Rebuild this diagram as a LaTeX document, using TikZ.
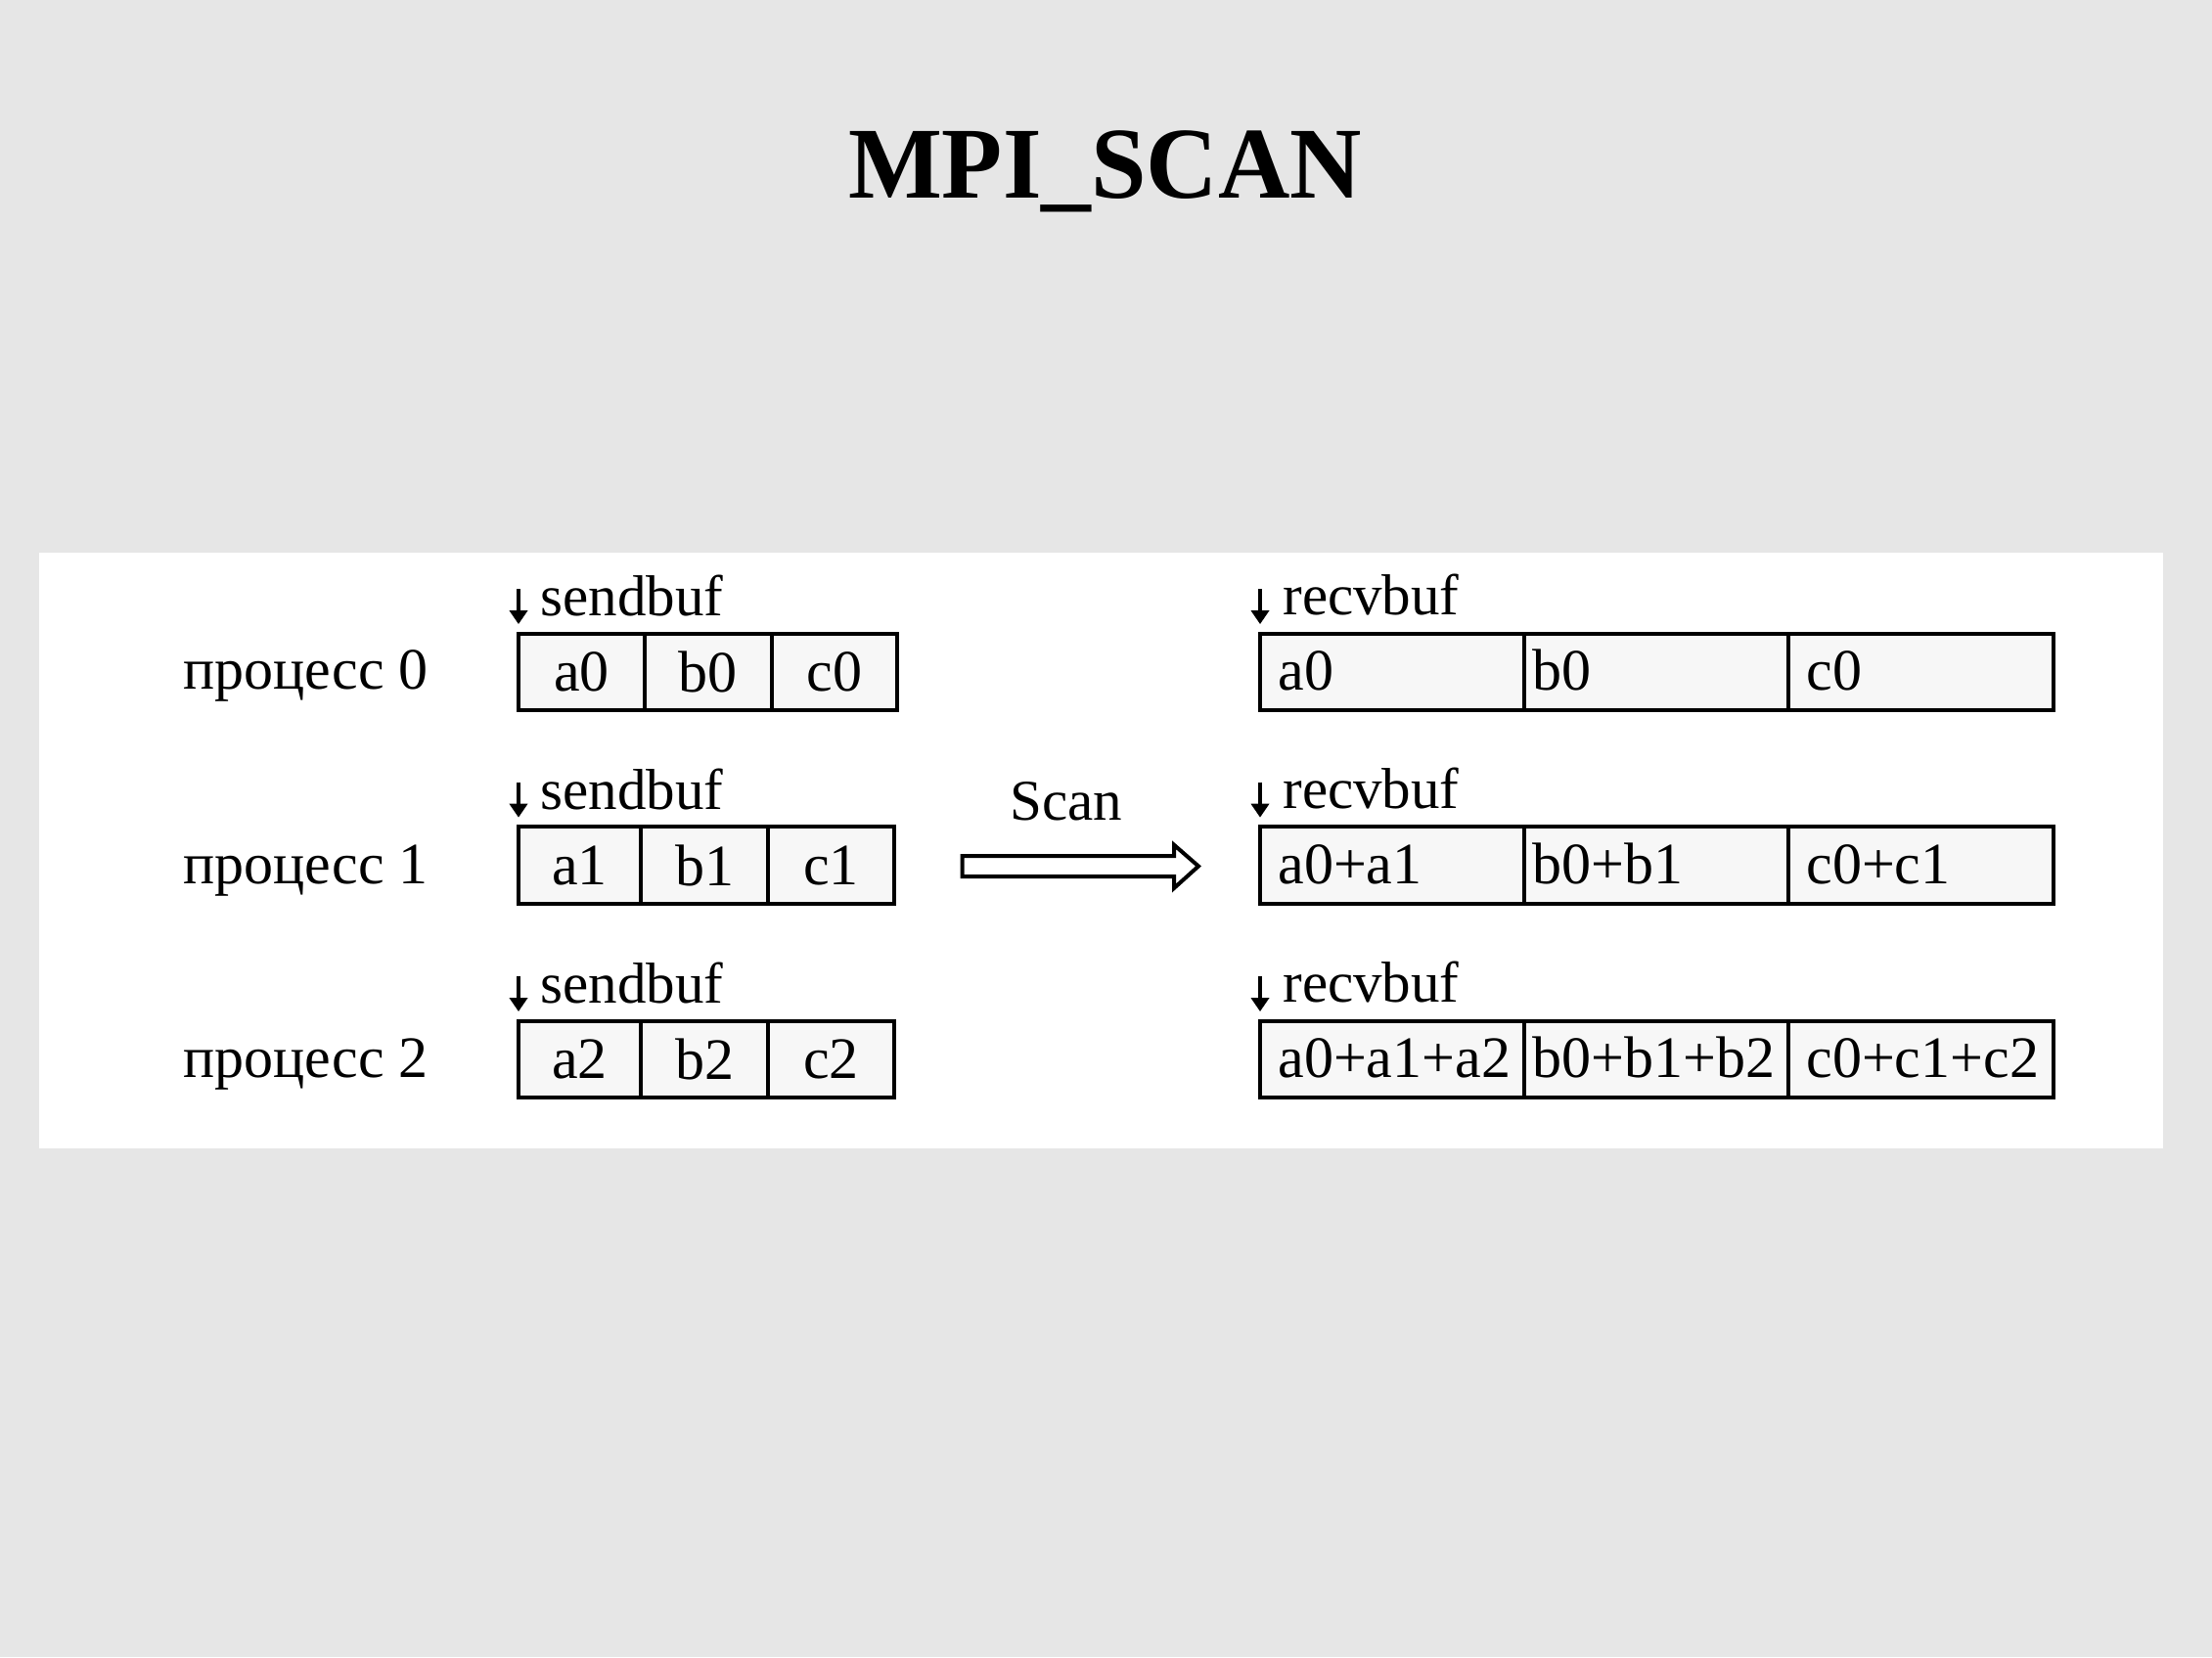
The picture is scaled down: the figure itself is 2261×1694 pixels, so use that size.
\documentclass[tikz,border=0pt]{standalone}
\usepackage{fontspec}
\setmainfont{Liberation Serif}
\newfontfamily\titlefont[FakeStretch=0.977]{Liberation Serif}
\newfontfamily\txtfont{Liberation Serif}
\usetikzlibrary{arrows.meta}
\definecolor{bgc}{RGB}{230,230,230}
\definecolor{cellc}{RGB}{247,247,247}
\begin{document}
\begin{tikzpicture}[x=0.5pt,y=-0.5pt,
  cell/.style={draw, line width=2pt, fill=cellc, anchor=north west, inner sep=0pt, outer sep=0pt,
    minimum height=39.3pt, font=\txtfont\fontsize{30pt}{34pt}\selectfont},
  celltxt/.style={anchor=base west, inner sep=0pt, font=\txtfont\fontsize{30pt}{34pt}\selectfont},
  buflbl/.style={anchor=base west, inner sep=0pt, font=\txtfont\fontsize{29.5pt}{34pt}\selectfont},
  proclbl/.style={anchor=base west, inner sep=0pt, font=\txtfont\fontsize{30pt}{34pt}\selectfont},
  ptr/.style={line width=1.8pt, -{Triangle[length=7pt,width=9pt]}},
  blockarrow/.style={draw, line width=2pt, fill=white, line join=miter}
]
\useasboundingbox (0,0) rectangle (2261,1694);
\fill[bgc] (0,0) rectangle (2261,1694);
\fill[white] (40,565) rectangle (2211,1174);

% title
\node[anchor=base, inner sep=0pt, font=\titlefont\bfseries\fontsize{52pt}{56pt}\selectfont] (title) at (1129.5,202) {MPI\_SCAN};

% process labels
\node[proclbl] (p0) at (187,704.5) {процесс 0};
\node[proclbl] (p1) at (187,903) {процесс 1};
\node[proclbl] (p2) at (187,1101.7) {процесс 2};

% send buffers
\node[cell, minimum width=64.35pt] (s00) at (530,647.7) {a0};
\node[cell, minimum width=65pt]    (s01) at (658.7,647.7) {b0};
\node[cell, minimum width=64.15pt] (s02) at (788.7,647.7) {c0};

\node[cell, minimum width=62.5pt] (s10) at (530,845.3) {a1};
\node[cell, minimum width=65pt]   (s11) at (655,845.3) {b1};
\node[cell, minimum width=64.5pt] (s12) at (785,845.3) {c1};

\node[cell, minimum width=62.5pt] (s20) at (530,1043.7) {a2};
\node[cell, minimum width=65pt]   (s21) at (655,1043.7) {b2};
\node[cell, minimum width=64.5pt] (s22) at (785,1043.7) {c2};

% sendbuf labels and pointers
\node[buflbl] (sl0) at (552,629) {sendbuf};
\node[buflbl] (sl1) at (552,827) {sendbuf};
\node[buflbl] (sl2) at (552,1025) {sendbuf};
\draw[ptr] ([yshift=22.8pt]s00.north west) -- ([yshift=4.8pt]s00.north west);
\draw[ptr] ([yshift=22.8pt]s10.north west) -- ([yshift=4.8pt]s10.north west);
\draw[ptr] ([yshift=22.8pt]s20.north west) -- ([yshift=4.8pt]s20.north west);

% recv buffers
\node[cell, minimum width=134.75pt] (r00) at (1288,647.7) {};
\node[cell, minimum width=135pt]    (r01) at (1557.5,647.7) {};
\node[cell, minimum width=135.6pt]  (r02) at (1827.5,647.7) {};
\node[cell, minimum width=134.75pt] (r10) at (1288,845.3) {};
\node[cell, minimum width=135pt]    (r11) at (1557.5,845.3) {};
\node[cell, minimum width=135.6pt]  (r12) at (1827.5,845.3) {};
\node[cell, minimum width=134.75pt] (r20) at (1288,1043.7) {};
\node[cell, minimum width=135pt]    (r21) at (1557.5,1043.7) {};
\node[cell, minimum width=135.6pt]  (r22) at (1827.5,1043.7) {};

\node[celltxt] (t00) at (1306,705) {a0};
\node[celltxt] (t01) at (1566,705) {b0};
\node[celltxt] (t02) at (1846,705) {c0};
\node[celltxt] (t10) at (1306,903) {a0+a1};
\node[celltxt] (t11) at (1566,903) {b0+b1};
\node[celltxt] (t12) at (1846,903) {c0+c1};
\node[celltxt] (t20) at (1306,1101) {a0+a1+a2};
\node[celltxt] (t21) at (1566,1101) {b0+b1+b2};
\node[celltxt] (t22) at (1846,1101) {c0+c1+c2};

% recvbuf labels and pointers
\node[buflbl] (rl0) at (1311,628) {recvbuf};
\node[buflbl] (rl1) at (1311,826) {recvbuf};
\node[buflbl] (rl2) at (1311,1024) {recvbuf};
\draw[ptr] ([yshift=22.8pt]r00.north west) -- ([yshift=4.8pt]r00.north west);
\draw[ptr] ([yshift=22.8pt]r10.north west) -- ([yshift=4.8pt]r10.north west);
\draw[ptr] ([yshift=22.8pt]r20.north west) -- ([yshift=4.8pt]r20.north west);

% scan arrow
\node[buflbl] (scan) at (1032,838) {Scan};
\draw[blockarrow] (983.7,875) -- (1200,875) -- (1200,863.7) -- (1225,885.5) -- (1200,908) -- (1200,896) -- (983.7,896) -- cycle;
\end{tikzpicture}
\end{document}
